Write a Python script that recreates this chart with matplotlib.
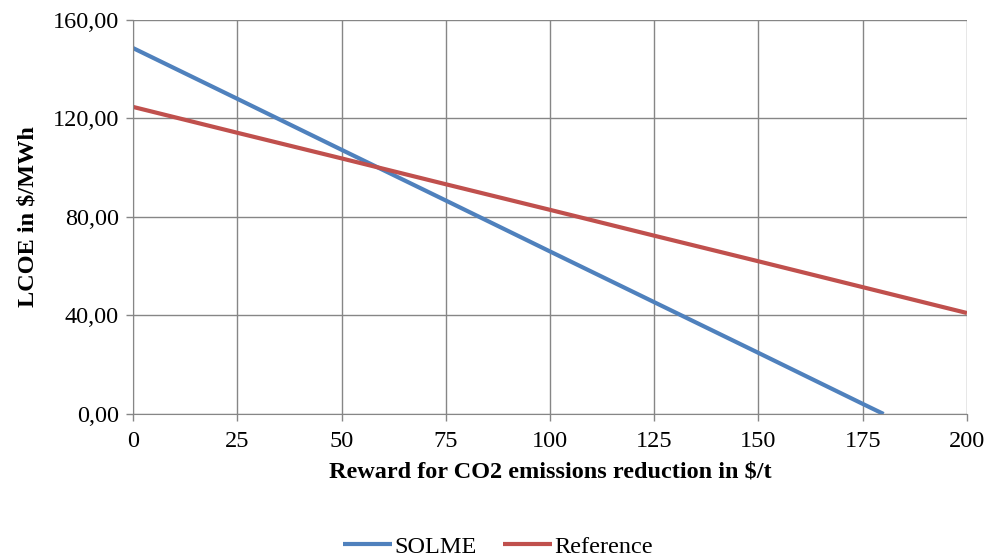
import numpy as np
import matplotlib.pyplot as plt

# values at each x tick
reward = [0, 25, 50, 75, 100, 125, 150, 175, 180]
solme = [148.6, 128.0, 107.3, 86.7, 66.0, 45.4, 24.8, 4.1, 0.0]
reward_ref = [0, 25, 50, 75, 100, 125, 150, 175, 200]
reference = [124.7, 114.2, 103.8, 93.3, 82.9, 72.4, 62.0, 51.5, 41.0]

x_ticks = [0, 25, 50, 75, 100, 125, 150, 175, 200]
y_ticks = [0, 40, 80, 120, 160]

plt.rcParams['font.family'] = 'Liberation Serif'

fig = plt.figure(figsize=(9.86, 5.58), dpi=100)
ax = fig.add_axes([0.1349, 0.2581, 0.8458, 0.7061])

ax.plot(reward, solme, color='#4F81BD', linewidth=3, label='SOLME', solid_capstyle='butt')
ax.plot(reward_ref, reference, color='#C0504D', linewidth=3, label='Reference', solid_capstyle='butt')

ax.set_xlim(0, 200)
ax.set_ylim(0, 160)
ax.set_xticks(x_ticks)
ax.set_yticks(y_ticks)
ax.set_yticklabels([f"{v:.2f}".replace('.', ',') for v in y_ticks])
ax.tick_params(labelsize=17.5, color='#868686', length=5, width=1)
ax.tick_params(axis='x', pad=7)
ax.tick_params(axis='y', pad=5)
ax.grid(True, color='#868686', linewidth=1)
ax.set_axisbelow(True)
for side in ['top', 'right']:
    ax.spines[side].set_visible(False)
for side in ['left', 'bottom']:
    ax.spines[side].set_color('#868686')

ax.set_xlabel('Reward for CO2 emissions reduction in $/t', fontsize=17.5, fontweight='bold', labelpad=7)
ax.set_ylabel('LCOE in $/MWh', fontsize=17.5, fontweight='bold', labelpad=10)

fig.legend(loc='center', bbox_to_anchor=(0.505, 0.02), ncol=2, frameon=False,
           fontsize=17.5, handlelength=2.0, handletextpad=0.1, columnspacing=1.1)

fig.savefig('out.png', dpi=100)
